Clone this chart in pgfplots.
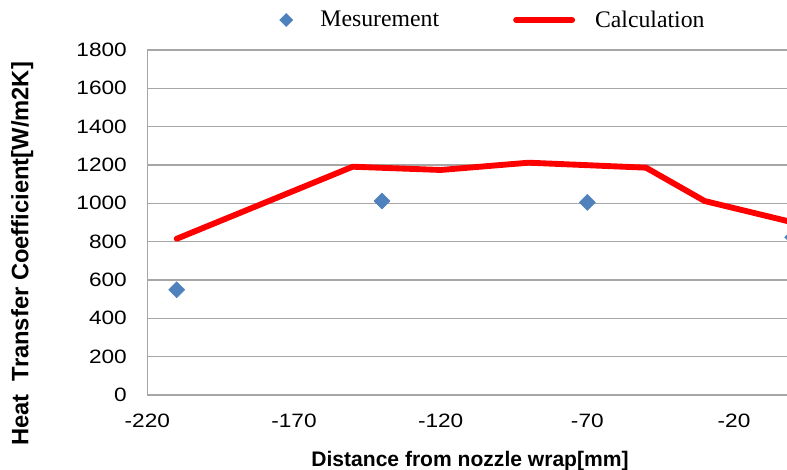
\documentclass[border=0pt]{standalone}
\usepackage{fontspec}
\setmainfont{Liberation Sans}
\newfontfamily\tickfont[FakeStretch=1.17]{Liberation Sans}
\newfontfamily\legfont{Liberation Serif}
\usepackage{pgfplots}
\pgfplotsset{compat=1.18}
\definecolor{gridgray}{HTML}{A6A6A6}
\definecolor{meas}{HTML}{4F81BD}

\pgfplotsset{
  meas legend/.style={legend image code/.code={
    \path[draw=none, fill=none] (-8pt,0pt) rectangle (25.75pt,0pt);
    \draw[##1, mark size=3.45pt] plot coordinates {(0pt,0pt)};}},
  calc legend/.style={legend image code/.code={
    \path[draw=none, fill=none] (-57.75pt,0pt) rectangle (59.25pt,0pt);
    \draw[##1] (0pt,0pt) -- (42pt,0pt);}},
}

\begin{document}
\begin{tikzpicture}
% the reference is cut off on the right, so clip the page to it
\path[use as bounding box, clip] (0,0) rectangle (590.25pt,352.5pt);
\begin{axis}[
  at={(110.5pt,56.25pt)}, anchor=south west,
  scale only axis, width=484pt, height=258.75pt,
  xmin=-220, xmax=0, ymin=0, ymax=1800,
  xtick={-220,-170,-120,-70,-20}, ytick={0,200,...,1800},
  axis lines=left, axis line style={-, draw=gridgray, line width=1pt},
  ymajorgrids, grid style={draw=gridgray, line width=1pt},
  major tick length=0pt,
  /pgf/number format/assume math mode=true,
  /pgf/number format/1000 sep={},
  tick label style={font=\tickfont\fontsize{14.5}{17}\selectfont, inner sep=0pt},
  yticklabel style={anchor=east, xshift=-15.2pt},
  xticklabel style={anchor=north, yshift=-14.25pt},
  xlabel={Distance from nozzle wrap[mm]},
  xlabel style={at={(axis description cs:0.5,0)}, anchor=center, yshift=-49.5pt,
    font=\bfseries\fontsize{15.8}{18}\selectfont},
  ylabel={Heat\ \ Transfer Coefficient[W/m2K]},
  ylabel style={at={(axis description cs:-0.194,0.409)}, anchor=center,
    font=\bfseries\fontsize{17.8}{20}\selectfont},
  legend columns=2,
  legend style={at={(axis description cs:0.531,1.087)}, anchor=center,
    draw=none, fill=none, inner sep=0pt,
    font=\legfont\fontsize{17.8}{20}\selectfont, nodes={inner sep=0pt}},
]
\addplot[only marks, mark=square*, mark size=4.25pt,
  mark options={rotate=45, fill=meas, draw=meas}, meas legend]
  coordinates {(-210,549) (-140,1012) (-70,1005) (0,823)};
\addlegendentry{Mesurement}
\addplot[red, line width=4.4pt, line join=round, line cap=round, mark=none, calc legend]
  coordinates {(-210,815) (-150,1191) (-120,1174) (-90,1212) (-50,1186) (-30,1012) (0,901)};
\addlegendentry{Calculation}
\end{axis}
\end{tikzpicture}
\end{document}
